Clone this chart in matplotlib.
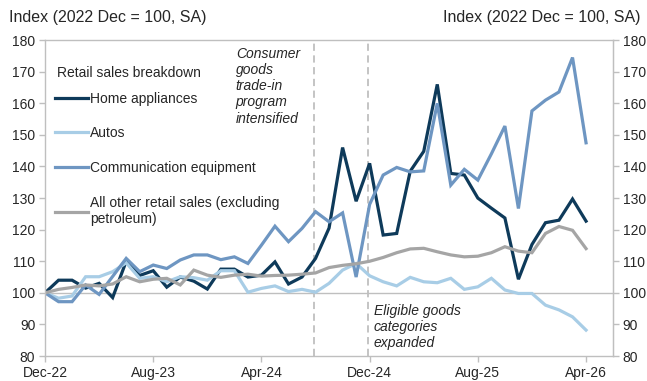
import matplotlib
matplotlib.use("Agg")
import matplotlib.pyplot as plt
import pandas as pd

plt.rcParams["font.family"] = ["Liberation Sans", "DejaVu Sans"]

# Monthly index values, Dec-22 through Apr-26 (2022 Dec = 100, SA)
months = pd.date_range("2022-12-01", "2026-04-01", freq="MS")

home_appliances = [
    100, 104, 104, 101.5, 103, 98.5, 110, 105.5, 107, 101.8,
    105, 103.7, 101.2, 107.5, 107.5, 105, 105.6, 109.8, 102.8, 105,
    110.9, 120.5, 146, 129, 141, 118.3, 118.8, 138.5, 144.8, 166,
    137.8, 137.3, 130, 126.8, 123.7, 104.3, 115.3, 122.2, 123, 129.7,
    122.7,
]
autos = [
    100, 98.3, 99, 105.1, 105.1, 106.7, 109.5, 104.6, 105.1, 103.5,
    105.1, 104.8, 104, 107, 107, 100.2, 101.4, 102.2, 100.4, 101.1,
    100.2, 103, 107.2, 109.3, 105.4, 103.5, 102.2, 104.9, 103.5, 103.2,
    104.6, 101.1, 101.9, 104.6, 100.9, 99.8, 99.8, 96.1, 94.6, 92.4,
    88.2,
]
communication = [
    100, 97.2, 97.2, 102.5, 99.5, 105.2, 110.9, 106.7, 108.8, 107.7,
    110.4, 112, 112, 110.5, 111.4, 109.3, 115.1, 121.1, 116.2, 120.4,
    125.7, 122.5, 125.3, 105, 128, 137.3, 139.7, 138.3, 138.6, 160,
    134.1, 139.1, 135.7, 144, 152.8, 126.7, 157.6, 161, 163.6, 174.5,
    147.5,
]
other_retail = [
    100, 101.1, 101.7, 102.5, 102.2, 102.8, 105.1, 103.5, 104.3, 104.6,
    102.5, 107.2, 105.6, 104.9, 105.6, 105.9, 105.3, 105.5, 105.6, 105.9,
    106.3, 108, 108.7, 109.2, 110, 111.2, 112.7, 113.9, 114.1, 113,
    112, 111.4, 111.6, 112.7, 114.6, 113.2, 112.7, 118.8, 121, 119.8,
    114,
]

series_names = [
    "Home appliances",
    "Autos",
    "Communication equipment",
    "All other retail sales (excluding\npetroleum)",
]
series_colors = ["#0e3a5a", "#a8cde6", "#6e96c2", "#a5a5a5"]

policy_events = [
    (19.9, "Consumer\ngoods\ntrade-in\nprogram\nintensified"),
    (23.9, "Eligible goods\ncategories\nexpanded"),
]

tick_positions = list(range(0, len(months), 8))
tick_labels = [months[i].strftime("%b-%y") for i in tick_positions]
y_ticks = list(range(80, 181, 10))

text_color = "#262626"
spine_color = "#bfbfbf"

fig = plt.figure(figsize=(6.47, 3.81), dpi=100)
ax = fig.add_axes([0.0696, 0.0656, 0.878, 0.829])

x = list(range(len(months)))
for vals, name, col in zip(
    [home_appliances, autos, communication, other_retail], series_names, series_colors
):
    ax.plot(x, vals, color=col, lw=2.3, label=name, solid_joinstyle="miter")

ax.axhline(100, color="#bfbfbf", lw=1.0, zorder=0)
for xpos, _ in policy_events:
    ax.axvline(xpos, color="#bfbfbf", lw=1.3, ls=(0, (4, 2.5)), zorder=0)

ax.text(policy_events[0][0] - 5.8, 177.9, policy_events[0][1], style="italic",
        fontsize=10, color=text_color, va="top", ha="left", linespacing=1.2)
ax.text(policy_events[1][0] + 0.4, 96.5, policy_events[1][1], style="italic",
        fontsize=10, color=text_color, va="top", ha="left", linespacing=1.2)

ax.set_xlim(0, 42)
ax.set_ylim(80, 180)
ax.set_xticks(tick_positions)
ax.set_xticklabels(tick_labels)
ax.set_yticks(y_ticks)

for side in ["left", "right", "top", "bottom"]:
    ax.spines[side].set_color(spine_color)
    ax.spines[side].set_linewidth(1.0)

ax.tick_params(axis="both", labelsize=10, colors=spine_color, labelcolor=text_color,
               length=4, width=1.0)
ax.tick_params(axis="y", direction="out", pad=3)
ax.tick_params(axis="x", direction="out", pad=3)

ax2 = ax.twinx()
ax2.set_ylim(80, 180)
ax2.set_yticks(y_ticks)
ax2.spines["right"].set_color(spine_color)
for side in ["left", "top", "bottom"]:
    ax2.spines[side].set_visible(False)
ax2.tick_params(axis="y", labelsize=10, colors=spine_color, labelcolor=text_color,
                length=4, width=1.0, direction="out", pad=3)

fig.text(0.014, 0.953, "Index (2022 Dec = 100, SA)", fontsize=11.5, color=text_color,
         ha="left", va="center")
fig.text(0.99, 0.953, "Index (2022 Dec = 100, SA)", fontsize=11.5, color=text_color,
         ha="right", va="center")

ax.text(0.021, 0.8956, "Retail sales breakdown", transform=ax.transAxes,
        fontsize=10, color=text_color, ha="left", va="center")
leg = ax.legend(loc="upper left", bbox_to_anchor=(-0.0046, 0.877), frameon=False,
                fontsize=10, handlelength=2.4, handletextpad=0.15,
                labelspacing=1.5, alignment="left")
for t in leg.get_texts():
    t.set_color(text_color)

fig.savefig("out.png", dpi=100, facecolor="white")
